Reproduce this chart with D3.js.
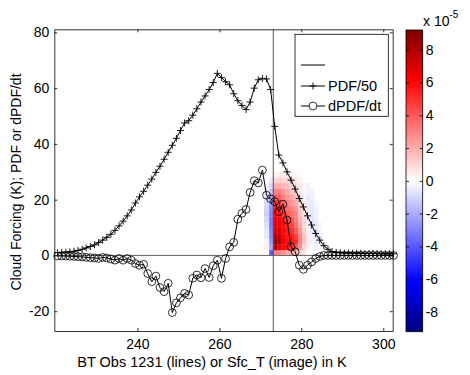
<!DOCTYPE html>
<html>
<head>
<meta charset="utf-8">
<script src="https://cdn.jsdelivr.net/npm/d3@7"></script>
<style>
  body { margin: 0; background: #fff; }
  svg { display: block; font-family: "Liberation Sans", Arial, Helvetica, sans-serif; }
  .axis path, .axis line { stroke: #000; stroke-width: 0.8; }
  .axis text { font-size: 14px; fill: #000; }
</style>
</head>
<body>
<svg width="470" height="375"></svg>
<script>
const svg = d3.select("svg");

// BT bins (K)
const btObs = d3.range(83).map(i => 220.5 + i);

// PDF/50
const pdf50 = [
  1.0, 1.1, 1.2, 1.3, 1.5, 1.8, 2.2, 2.7, 3.2, 3.8,
  4.6, 5.5, 6.5, 7.6, 9.0, 10.6, 12.3, 14.2, 16.3, 18.8,
  21.0, 23.0, 25.2, 27.4, 29.8, 32.0, 34.5, 37.0, 39.5, 42.0,
  44.8, 47.5, 48.3, 50.3, 52.6, 55.0, 57.2, 59.5, 62.0, 65.3,
  63.8, 62.3, 61.2, 58.0, 55.5, 53.8, 52.3, 55.0, 60.0, 63.0,
  63.5, 63.3, 59.5, 46.3, 36.0, 33.2, 30.0, 27.0, 23.8, 20.4,
  17.4, 14.2, 10.9, 7.9, 5.5, 3.5, 2.2, 1.4, 1.1, 1.0,
  0.9, 0.9, 0.8, 0.8, 0.8, 0.7, 0.7, 0.7, 0.7, 0.6,
  0.6, 0.6, 0.6
];

// dPDF/dt
const dpdfdt = [
  -0.2, -0.2, -0.25, -0.3, -0.35, -0.45, -0.5, -0.7, -0.8, -0.9,
  -1.1, -0.7, -0.9, -1.3, -1.7, -1.1, -1.7, -1.1, -1.7, -2.9,
  -3.5, -3.2, -6.5, -9.4, -7.4, -11.5, -13.0, -10.0, -20.5, -17.0,
  -15.2, -13.6, -14.2, -8.2, -7.0, -8.0, -4.7, -7.9, -3.7, -1.7,
  -8.2, -1.1, 3.1, 4.7, 13.0, 15.1, 16.5, 22.6, 26.8, 26.0,
  30.6, 21.6, 20.3, 19.3, 15.7, 18.4, 12.7, 3.0, 1.3, -3.5,
  -5.0, -3.5, -2.3, -1.1, -0.4, 0, 0, 0, 0, 0,
  0, 0, 0, 0, 0, 0, 0, 0, 0, 0,
  0, 0, 0
];

// image: Sfc_T bin edges (K) and cloud forcing bin edges (K), values x 1e-5
const sfcEdges = [270.9, 272.15, 273.15, 274.15, 275.15, 276.15, 277.15, 278.15,
                  279.15, 280.15, 281.15, 282.15, 283.15, 284.15, 285.15];
const cfEdges = [0, 2, 4, 6, 8, 10, 12, 14, 16, 18, 20, 22, 24, 26, 28, 30];
const imgVals = [ // bottom row first
  [ 0.0, -4.0, 3.0, 3.0, 2.5, 2.0, 2.0, 1.5, 1.0, 0.5, 0.0, 0.0, 0.0, 0.0],
  [ 0.5, -2.0, 8.0, 6.5, 6.0, 5.5, 5.0, 4.0, 2.5, 1.0, 0.3, 0.0, -0.3, -0.2],
  [-0.3, -2.5, 8.5, 8.0, 6.5, 5.8, 5.5, 5.0, 3.0, 1.5, 0.5, -0.3, -0.5, -0.3],
  [-0.5, -2.8, 8.0, 7.5, 6.0, 5.5, 5.5, 4.5, 3.0, 1.5, 0.5, -0.3, -0.5, -0.3],
  [-0.5, -3.0, 7.0, 7.0, 6.0, 5.5, 5.0, 4.0, 2.5, 1.2, 0.3, -0.5, -0.5, -0.2],
  [-0.8, -3.2, 6.8, 6.5, 5.8, 5.0, 4.5, 3.5, 2.0, 1.0, 0.0, -0.5, -0.5, -0.2],
  [-1.0, -3.2, 6.5, 6.2, 5.5, 4.5, 4.0, 3.0, 1.8, 1.0, -0.3, -0.6, -0.4, 0.0],
  [-1.2, -3.0, 6.0, 5.8, 5.0, 4.0, 3.5, 3.0, 1.5, 0.8, -0.3, -0.6, -0.3, 0.0],
  [-1.0, -2.8, 5.5, 5.2, 4.5, 3.5, 3.0, 2.5, 1.3, 0.5, -0.5, -0.5, -0.3, 0.0],
  [-1.0, -2.5, 5.0, 4.5, 3.8, 3.0, 2.5, 2.0, 1.0, 0.5, -0.5, -0.5, -0.2, 0.0],
  [-0.8, -2.0, 4.0, 3.8, 3.0, 2.5, 2.0, 1.5, 0.8, 0.3, -0.5, -0.3, 0.0, 0.0],
  [-0.5, -1.5, 3.0, 3.0, 2.5, 2.0, 1.5, 1.0, 0.5, 0.3, -0.3, -0.3, 0.0, 0.0],
  [-0.3, -1.0, 2.0, 2.0, 1.8, 1.5, 1.0, 0.8, 0.5, 0.2, -0.3, 0.0, 0.0, 0.0],
  [ 0.0, -0.5, 1.0, 1.2, 1.0, 1.0, 0.8, 0.5, 0.3, 0.0, 0.0, 0.0, 0.0, 0.0],
  [ 0.0, 0.0, 0.3, 0.5, 0.5, 0.4, 0.3, 0.2, 0.0, 0.0, 0.0, 0.0, 0.0, 0.0]
];

const xTicks = [240, 260, 280, 300];
const yTicks = [-20, 0, 20, 40, 60, 80];
const cTicks = [-8, -6, -4, -2, 0, 2, 4, 6, 8];
const freezeK = 273.15;

const x = d3.scaleLinear().domain([219.7, 302.3]).range([54.3, 392.7]);
const y = d3.scaleLinear().domain([-27.1, 81.1]).range([331, 29.3]);

const color = d3.scaleLinear()
  .domain([-9.2, -6.1, 0, 6.1, 9.2])
  .range(["#00007f", "#0000ff", "#ffffff", "#ff0000", "#7f0000"])
  .clamp(true);

// image cells
const cells = [];
imgVals.forEach((row, r) => row.forEach((v, c) => {
  if (v !== 0) cells.push({ x0: sfcEdges[c], x1: sfcEdges[c + 1], y0: cfEdges[r], y1: cfEdges[r + 1], v: v });
}));

svg.append("g")
  .selectAll("rect")
  .data(cells)
  .enter().append("rect")
  .attr("x", d => x(d.x0))
  .attr("y", d => y(d.y1))
  .attr("width", d => x(d.x1) - x(d.x0) + 0.3)
  .attr("height", d => y(d.y0) - y(d.y1) + 0.3)
  .attr("fill", d => color(d.v));

// zero line and freezing line
svg.append("line")
  .attr("x1", x.range()[0]).attr("x2", x.range()[1])
  .attr("y1", y(0)).attr("y2", y(0))
  .attr("stroke", "#666").attr("stroke-width", 1);

svg.append("line")
  .attr("x1", x(freezeK)).attr("x2", x(freezeK))
  .attr("y1", y.range()[0]).attr("y2", y.range()[1])
  .attr("stroke", "#555").attr("stroke-width", 1);

// curves
const line = d3.line().x(d => x(d[0])).y(d => y(d[1]));
const pdfPts = btObs.map((b, i) => [b, pdf50[i]]);
const dPts = btObs.map((b, i) => [b, dpdfdt[i]]);

svg.append("path").datum(pdfPts)
  .attr("d", line).attr("fill", "none").attr("stroke", "#000").attr("stroke-width", 1);
svg.append("path").datum(dPts)
  .attr("d", line).attr("fill", "none").attr("stroke", "#000").attr("stroke-width", 1);

function plusPath(s) {
  return `M${-s},0H${s}M0,${-s}V${s}`;
}

svg.append("g")
  .selectAll("path")
  .data(pdfPts)
  .enter().append("path")
  .attr("transform", d => `translate(${x(d[0])},${y(d[1])})`)
  .attr("d", plusPath(3.5))
  .attr("stroke", "#000").attr("stroke-width", 0.9).attr("fill", "none");

svg.append("g")
  .selectAll("circle")
  .data(dPts)
  .enter().append("circle")
  .attr("cx", d => x(d[0]))
  .attr("cy", d => y(d[1]))
  .attr("r", 3.9)
  .attr("stroke", "#000").attr("stroke-width", 0.8).attr("fill", "none");

// axes
svg.append("g").attr("class", "axis")
  .attr("transform", `translate(0,${y.range()[0]})`)
  .call(d3.axisBottom(x).tickValues(xTicks).tickSizeInner(-3).tickSizeOuter(0).tickPadding(8));
svg.append("g").attr("class", "axis")
  .attr("transform", `translate(${x.range()[0]},0)`)
  .call(d3.axisLeft(y).tickValues(yTicks).tickSizeInner(-3).tickSizeOuter(0).tickPadding(5));

svg.append("g").attr("class", "axis")
  .attr("transform", `translate(0,${y.range()[1]})`)
  .call(d3.axisTop(x).tickValues(xTicks).tickSizeInner(-3).tickSizeOuter(0).tickFormat(""));
svg.append("g").attr("class", "axis")
  .attr("transform", `translate(${x.range()[1]},0)`)
  .call(d3.axisRight(y).tickValues(yTicks).tickSizeInner(-3).tickSizeOuter(0).tickFormat(""));

svg.selectAll(".axis text").text(function() { return d3.select(this).text().replace("−", "-"); });

svg.append("text")
  .attr("x", 212).attr("y", 367)
  .attr("text-anchor", "middle")
  .style("font-size", "14.5px")
  .text("BT Obs 1231 (lines) or Sfc_T (image) in K");

svg.append("text")
  .attr("transform", "translate(21,182) rotate(-90)")
  .attr("text-anchor", "middle")
  .style("font-size", "14px")
  .text("Cloud Forcing (K); PDF or dPDF/dt");

// legend
const lg = svg.append("g");
lg.append("rect")
  .attr("x", 295).attr("y", 34.3).attr("width", 93.3).attr("height", 82)
  .attr("fill", "#fff").attr("stroke", "#000").attr("stroke-width", 0.8);
const legendRows = [
  { label: "", marker: null, yy: 65 },
  { label: "PDF/50", marker: "plus", yy: 86 },
  { label: "dPDF/dt", marker: "circle", yy: 106 }
];
legendRows.forEach(r => {
  lg.append("line").attr("x1", 301).attr("x2", 325).attr("y1", r.yy).attr("y2", r.yy)
    .attr("stroke", "#000").attr("stroke-width", 1);
  if (r.marker === "plus") {
    lg.append("path").attr("transform", `translate(313,${r.yy})`).attr("d", plusPath(3.5))
      .attr("stroke", "#000").attr("stroke-width", 0.9);
  } else if (r.marker === "circle") {
    lg.append("circle").attr("cx", 313).attr("cy", r.yy).attr("r", 3.9)
      .attr("stroke", "#000").attr("stroke-width", 0.8).attr("fill", "#fff");
  }
  lg.append("text").attr("x", 328).attr("y", r.yy + 5)
    .style("font-size", "14.5px").text(r.label);
});

// colorbar
const cb = d3.scaleLinear().domain([-9.2, 9.2]).range([331.7, 30]);
const grad = svg.append("defs").append("linearGradient")
  .attr("id", "cbgrad").attr("x1", 0).attr("x2", 0).attr("y1", 1).attr("y2", 0);
d3.range(0, 1.0001, 0.02).forEach(t => {
  grad.append("stop").attr("offset", t).attr("stop-color", color(-9.2 + 18.4 * t));
});
svg.append("rect")
  .attr("x", 406).attr("y", cb.range()[1]).attr("width", 16.7)
  .attr("height", cb.range()[0] - cb.range()[1])
  .attr("fill", "url(#cbgrad)").attr("stroke", "#000").attr("stroke-width", 0.8);

svg.append("g").attr("class", "axis")
  .attr("transform", "translate(422.7,0)")
  .call(d3.axisRight(cb).tickValues(cTicks).tickSizeInner(-3).tickSizeOuter(0).tickPadding(3))
  .call(g => g.select(".domain").remove())
  .selectAll("text").text(d => String(d));
svg.append("g").attr("class", "axis")
  .attr("transform", "translate(406,0)")
  .call(d3.axisLeft(cb).tickValues(cTicks).tickSizeInner(-3).tickSizeOuter(0).tickFormat(""))
  .call(g => g.select(".domain").remove());

const ex = svg.append("text").attr("x", 423).attr("y", 26).style("font-size", "14px");
ex.append("tspan").text("x 10");
ex.append("tspan").attr("dy", -8).style("font-size", "10px").text("-5");
</script>
</body>
</html>
